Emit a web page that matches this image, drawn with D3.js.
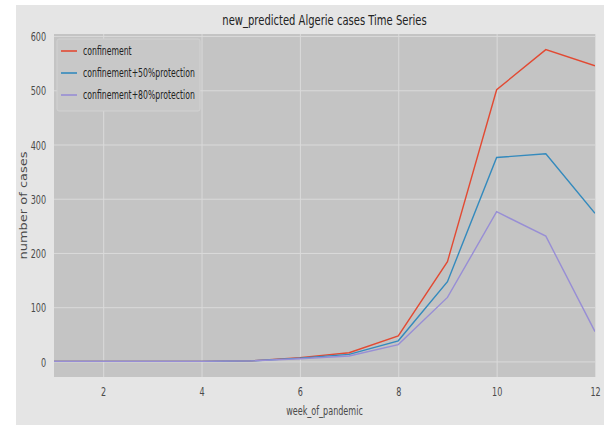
<!DOCTYPE html>
<html><head><meta charset="utf-8">
<script src="https://cdn.jsdelivr.net/npm/d3@7/dist/d3.min.js"></script>
<style>body{margin:0;background:#fff}text{font-family:"DejaVu Sans",sans-serif}</style>
</head><body><svg id="c" width="612" height="425"></svg>
<script>
const weeks = [1,2,3,4,5,6,7,8,9,10,11,12];
const confinement = [0,0,0,0,1,7,16,47,184,501,575,545];
const protection50 = [0,0,0,0,1,6,13,38,147,376,383,273];
const protection80 = [0,0,0,0,1,5,10,31,118,276,231,55];
const seriesNames = ["confinement","confinement+50%protection","confinement+80%protection"];
const seriesColors = ["#E24A33","#348ABD","#988ED5"];
const xTicks = [2,4,6,8,10,12];
const yTicks = [0,100,200,300,400,500,600];

const SX = 0.62;
const svg = d3.select("#c");
svg.append("rect").attr("x",16).attr("y",5).attr("width",588).attr("height",420).attr("fill","#e5e5e5");
const m = {l:54, r:595, t:34, b:377};
const x = d3.scaleLinear().domain([1,12]).range([m.l,m.r]);
const y = d3.scaleLinear().domain([-28.75,603.75]).range([m.b,m.t]);
svg.append("rect").attr("x",m.l).attr("y",m.t).attr("width",m.r-m.l).attr("height",m.b-m.t).attr("fill","#c4c4c4");

// grid via axes
svg.append("g").attr("transform",`translate(0,${m.b})`)
  .call(d3.axisBottom(x).tickValues(xTicks).tickSize(-(m.b-m.t)).tickFormat(""))
  .call(g=>{g.select(".domain").remove();g.selectAll("line").attr("stroke","#dadada").attr("stroke-width",1);});
svg.append("g").attr("transform",`translate(${m.l},0)`)
  .call(d3.axisLeft(y).tickValues(yTicks).tickSize(-(m.r-m.l)).tickFormat(""))
  .call(g=>{g.select(".domain").remove();g.selectAll("line").attr("stroke","#dadada").attr("stroke-width",1);});

// tick labels
const xa = svg.append("g").attr("transform",`translate(0,${m.b})`)
  .call(d3.axisBottom(x).tickValues(xTicks).tickSize(0).tickPadding(0).tickFormat(d3.format("d")));
xa.select(".domain").remove();
xa.selectAll("text").attr("y",0).attr("dy",0).attr("transform",`translate(0,19) scale(${SX},1)`)
  .attr("fill","#4a4a4a").style("font-size","13px").style("font-family","DejaVu Sans");
const ya = svg.append("g").attr("transform",`translate(${m.l},0)`)
  .call(d3.axisLeft(y).tickValues(yTicks).tickSize(0).tickPadding(0).tickFormat(d3.format("d")));
ya.select(".domain").remove();
ya.selectAll("text").attr("x",0).attr("dy","0.36em").attr("transform",`translate(-8,0) scale(${SX},1)`)
  .attr("fill","#4a4a4a").style("font-size","13px").style("font-family","DejaVu Sans");

// lines
const data = [confinement, protection50, protection80];
const line = d3.line().x((d,i)=>x(weeks[i])).y(d=>y(d));
svg.append("clipPath").attr("id","pc").append("rect").attr("x",m.l).attr("y",m.t).attr("width",m.r-m.l).attr("height",m.b-m.t);
data.forEach((s,k)=>{
  svg.append("path").datum(s).attr("d",line).attr("fill","none").attr("stroke",seriesColors[k])
    .attr("stroke-width",1.4).attr("clip-path","url(#pc)");
});

// title & labels
svg.append("text").attr("transform",`translate(${(m.l+m.r)/2},25) scale(0.73,1)`).attr("text-anchor","middle")
  .attr("fill","#222").style("font-size","13.7px").text("new_predicted Algerie cases Time Series");
svg.append("text").attr("transform",`translate(${(m.l+m.r)/2},415) scale(${SX},1)`).attr("text-anchor","middle")
  .attr("fill","#4a4a4a").style("font-size","13px").text("week_of_pandemic");
svg.append("text").attr("transform",`translate(27,${(m.t+m.b)/2}) scale(0.8,1) rotate(-90)`).attr("text-anchor","middle")
  .attr("fill","#4a4a4a").style("font-size","13px").text("number of cases");

// legend
const lg = svg.append("g");
lg.append("rect").attr("x",57).attr("y",39).attr("width",143).attr("height",72).attr("rx",2)
  .attr("fill","#c8c8c8").attr("stroke","#d2d2d2").attr("stroke-width",1);
seriesNames.forEach((n,k)=>{
  const yy = 51 + k*22;
  lg.append("line").attr("x1",61).attr("x2",77).attr("y1",yy).attr("y2",yy).attr("stroke",seriesColors[k]).attr("stroke-width",1.6);
  lg.append("text").attr("transform",`translate(83,${yy+4}) scale(${SX},1)`).attr("fill","#222").style("font-size","12.5px").text(n);
});
</script></body></html>
